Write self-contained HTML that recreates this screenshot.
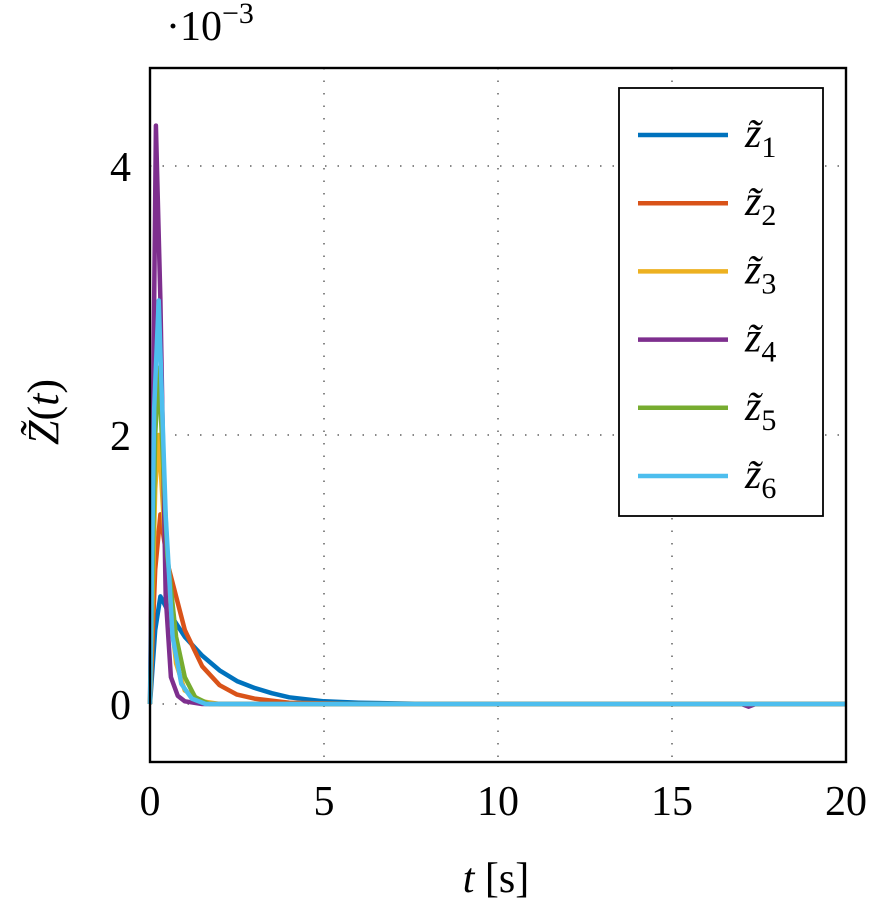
<!DOCTYPE html>
<html><head><meta charset="utf-8"><style>
html,body{margin:0;padding:0;background:#fff;}
svg text{font-family:"Liberation Serif",serif;fill:#000;}
</style></head><body>
<svg id="chart" width="871" height="902" xmlns="http://www.w3.org/2000/svg">
<g id="grid"></g>
<g id="series"></g>
<rect x="150" y="68" width="696" height="694" fill="none" stroke="#000" stroke-width="2.4"/>
<g id="ticks"></g>
<text x="166" y="40" font-size="42">·10<tspan dy="-17" font-size="30">−3</tspan></text>
<text x="496" y="892" font-size="42" text-anchor="middle"><tspan font-style="italic">t</tspan> [s]</text>
<text transform="translate(58,412) rotate(-90)" font-size="44" text-anchor="middle"><tspan font-style="italic">Z̃</tspan>(<tspan font-style="italic">t</tspan>)</text>
<g id="legend">
<rect x="619" y="88" width="204" height="428" fill="#fff" stroke="#000" stroke-width="1.8"/>
</g>
</svg>
<script>
const xTicks=[0,5,10,15,20];
const yTicks=[0,2,4];
const colors=["#0072BD","#D95319","#EDB120","#7E2F8E","#77AC30","#4DBEEE"];
const tBlue=[0,0.15,0.3,0.5,1,1.5,2,2.5,3,3.5,4,5,6,8,20];
const vBlue=[0,0.55,0.8,0.7,0.5,0.36,0.25,0.17,0.12,0.08,0.05,0.02,0.01,0,0];
const tOrange=[0,0.15,0.3,0.5,1,1.5,2,2.5,3,4,6,20];
const vOrange=[0,1.0,1.41,1.05,0.55,0.28,0.14,0.07,0.04,0.01,0,0];
const tYellow=[0,0.15,0.25,0.5,0.75,1,1.5,2,20];
const vYellow=[0,1.6,2.0,0.9,0.3,0.1,0.02,0,0];
const tPurple=[0,0.1,0.17,0.3,0.45,0.6,0.8,1,1.5,17,17.2,17.4,20];
const vPurple=[0,2.5,4.3,3.0,0.8,0.2,0.06,0.02,0,0,-0.02,0,0];
const tGreen=[0,0.15,0.25,0.5,0.75,1,1.3,1.7,20];
const vGreen=[0,2.0,2.5,1.1,0.5,0.2,0.05,0,0];
const tCyan=[0,0.12,0.25,0.45,0.65,0.9,1.2,1.6,20];
const vCyan=[0,2.2,3.0,1.4,0.5,0.15,0.04,0,0];
const T=[tBlue,tOrange,tYellow,tPurple,tGreen,tCyan];
const V=[vBlue,vOrange,vYellow,vPurple,vGreen,vCyan];
const NS="http://www.w3.org/2000/svg";
const X=t=>150+t*34.8;
const Y=v=>704-v*134.5;
function mk(tag,attrs,parent){const e=document.createElementNS(NS,tag);for(const k in attrs)e.setAttribute(k,attrs[k]);parent.appendChild(e);return e;}
const grid=document.getElementById('grid'),ticks=document.getElementById('ticks'),ser=document.getElementById('series'),leg=document.getElementById('legend');
xTicks.forEach(t=>{
 if(t>0&&t<20){const l=mk('line',{x1:X(t),x2:X(t),y1:68,y2:762,stroke:'#888','stroke-width':2,'stroke-dasharray':'1.5 11'},grid);
 
 }
 const tx=mk('text',{x:X(t),y:815,'font-size':42,'text-anchor':'middle'},ticks);tx.textContent=t;
 
 
});
yTicks.forEach(v=>{
 const l=mk('line',{x1:150,x2:846,y1:Y(v),y2:Y(v),stroke:'#888','stroke-width':2,'stroke-dasharray':'1.5 11'},grid);
 
 
 const tx=mk('text',{x:131,y:Y(v)+15,'font-size':42,'text-anchor':'end'},ticks);tx.textContent=v;
 
 
});
T.forEach((ts,i)=>{
 const d=ts.map((t,j)=>(j?'L':'M')+X(t).toFixed(1)+','+Y(V[i][j]).toFixed(1)).join('');
 const p=mk('path',{d:d,fill:'none',stroke:colors[i],'stroke-width':4.5,'stroke-linejoin':'round'},ser);
 
 
 const y=135+i*68.2;
 const ll=mk('line',{x1:638,x2:728,y1:y,y2:y,stroke:colors[i],'stroke-width':4.5},leg);
 
 
 const tx=mk('text',{x:745,y:y+12,'font-size':42,'font-style':'italic'},leg);
 tx.innerHTML='z̃<tspan dy="10" font-size="30" font-style="normal">'+(i+1)+'</tspan>';
 
 
});
</script>
</body></html>
